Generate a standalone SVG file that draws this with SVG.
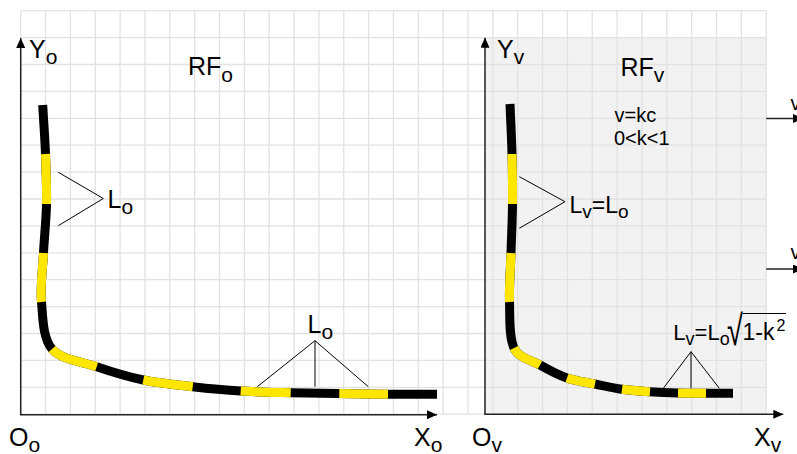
<svg xmlns="http://www.w3.org/2000/svg" width="797" height="454" viewBox="0 0 797 454">
<style>
.grid{stroke:#e2e2e2;stroke-width:1.3;fill:none}
.axis{stroke:#222;stroke-width:1.5;fill:none}
.blk{stroke:#000;stroke-width:9;fill:none;stroke-linecap:butt}
.yel{stroke:#ffe600;stroke-width:9;fill:none;stroke-linecap:butt}
.ann{stroke:#000;stroke-width:1;fill:none}
text{font-family:"Liberation Sans",Arial,sans-serif;fill:#000}
.lbl{font-size:25px}
.sub{font-size:21px}
.sm{font-size:20px}
</style>
<defs>
<marker id="ah" markerUnits="userSpaceOnUse" markerWidth="10" markerHeight="9" refX="10" refY="4.5" orient="auto" viewBox="0 0 10 9">
<path d="M0,0L10,4.5L0,9z" fill="#000"/>
</marker>
</defs>
<rect id="panel-v-bg" x="485" y="37.6" width="281.2" height="376.6" fill="#f2f2f2"/>
<g id="grid">
<path class="grid" d="M20.7 10.7V414.2M45.55 10.7V414.2M70.4 10.7V414.2M95.25 10.7V414.2M120.1 10.7V414.2M144.95 10.7V414.2M169.8 10.7V414.2M194.65 10.7V414.2M219.5 10.7V414.2M244.35 10.7V414.2M269.2 10.7V414.2M294.05 10.7V414.2M318.9 10.7V414.2M343.75 10.7V414.2M368.6 10.7V414.2M393.45 10.7V414.2M418.3 10.7V414.2M443.15 10.7V414.2M468 10.7V414.2M492.85 10.7V414.2M517.7 10.7V414.2M542.55 10.7V414.2M567.4 10.7V414.2M592.25 10.7V414.2M617.1 10.7V414.2M641.95 10.7V414.2M666.8 10.7V414.2M691.65 10.7V414.2M716.5 10.7V414.2M741.35 10.7V414.2M766.2 10.7V414.2"/>
<path class="grid" d="M20.7 10.7H766.2M20.7 37.6H766.2M20.7 64.5H766.2M20.7 91.4H766.2M20.7 118.3H766.2M20.7 145.2H766.2M20.7 172.1H766.2M20.7 199H766.2M20.7 225.9H766.2M20.7 252.8H766.2M20.7 279.7H766.2M20.7 306.6H766.2M20.7 333.5H766.2M20.7 360.4H766.2M20.7 387.3H766.2M20.7 414.2H766.2"/>
</g>
<g id="curve-o">
<path class="blk" d="M42.7,105 C43.63,121.33 44.87,137.5 45.5,154 C46.13,170.5 46.83,187.5 46.5,204 C46.17,220.5 44.33,236.67 43.5,253 C42.67,269.33 40.08,286 41.5,302 C42.92,318 42.8,338.22 52,349 C61.2,359.78 81.48,361.53 96.7,366.7 C111.92,371.87 127.3,376.67 143.3,380 C159.3,383.33 176.47,384.87 192.7,386.7 C208.93,388.53 224.37,390 240.7,391 C257.03,392 274.27,392.28 290.7,392.7 C307.13,393.12 323.08,393.23 339.3,393.5 C355.52,393.77 371.72,394.17 388,394.3 C404.28,394.43 420.67,394.3 437,394.3"/>
<path class="yel" d="M45.5,154 C46.13,170.5 46.83,187.5 46.5,204"/>
<path class="yel" d="M43.5,253 C42.67,269.33 40.08,286 41.5,302"/>
<path class="yel" d="M52,349 C61.2,359.78 81.48,361.53 96.7,366.7"/>
<path class="yel" d="M143.3,380 C159.3,383.33 176.47,384.87 192.7,386.7"/>
<path class="yel" d="M240.7,391 C257.03,392 274.27,392.28 290.7,392.7"/>
<path class="yel" d="M339.3,393.5 C355.52,393.77 371.72,394.17 388,394.3"/>
</g>
<g id="curve-v">
<path class="blk" d="M510,104 C510.67,120.67 511.58,137.33 512,154 C512.42,170.67 512.67,187.5 512.5,204 C512.33,220.5 511.5,236.67 511,253 C510.5,269.33 509,286.17 509.5,302 C510,317.83 508.92,337.5 514,348 C519.08,358.5 531.17,360 540,365 C548.83,370 557.83,374.83 567,378 C576.17,381.17 585.83,382.12 595,384 C604.17,385.88 612.83,388.02 622,389.3 C631.17,390.58 640.67,391.08 650,391.7 C659.33,392.32 668.67,392.73 678,393 C687.33,393.27 696.83,393.25 706,393.3 C715.17,393.35 724,393.3 733,393.3"/>
<path class="yel" d="M512,154 C512.42,170.67 512.67,187.5 512.5,204"/>
<path class="yel" d="M511,253 C510.5,269.33 509,286.17 509.5,302"/>
<path class="yel" d="M514,348 C519.08,358.5 531.17,360 540,365"/>
<path class="yel" d="M567,378 C576.17,381.17 585.83,382.12 595,384"/>
<path class="yel" d="M622,389.3 C631.17,390.58 640.67,391.08 650,391.7"/>
<path class="yel" d="M678,393 C687.33,393.27 696.83,393.25 706,393.3"/>
</g>
<g id="connectors">
<path class="axis" d="M20.7,414.8V38" marker-end="url(#ah)"/>
<path class="axis" d="M20,414.8H437" marker-end="url(#ah)"/>
<path class="axis" d="M485,414.3V37.7" marker-end="url(#ah)"/>
<path class="axis" d="M484.3,414.3H783.3" marker-end="url(#ah)"/>
<path class="axis" d="M766.2,118.5H803" marker-end="url(#ah)"/>
<path class="axis" d="M766.2,269H803" marker-end="url(#ah)"/>
<path class="ann" d="M58.3,172.3L103.3,198.5L58.3,225.7"/>
<path class="ann" d="M257.3,386.7L315,340.7L368.3,386.7M315,340.7V386.7"/>
<path class="ann" d="M519.3,176.7L565,201.7L519.3,228.3"/>
<path class="ann" d="M663.3,388.3L691,351.7L719.3,388.3M691,351.7V388.3"/>
</g>
<g id="panel-o">
<text class="lbl" x="29" y="58">Y<tspan class="sub" dy="6">o</tspan></text>
<text class="lbl" x="188" y="75">RF<tspan class="sub" dy="7">o</tspan></text>
<text class="lbl" x="9" y="445.5">O<tspan class="sub" dy="6">o</tspan></text>
<text class="lbl" x="414" y="446">X<tspan class="sub" dy="6">o</tspan></text>
<text id="label-lo-1" class="lbl" x="107.5" y="208">L<tspan class="sub" dy="6">o</tspan></text>
<text id="label-lo-2" class="lbl" x="307.5" y="332.5">L<tspan class="sub" dy="6">o</tspan></text>
</g>
<g id="panel-v">
<text class="lbl" x="497" y="58">Y<tspan class="sub" dy="6">v</tspan></text>
<text class="lbl" x="620.5" y="76">RF<tspan class="sub" dy="6">v</tspan></text>
<text class="sm" x="614.5" y="121.5">v=kc</text>
<text class="sm" x="614" y="145">0&lt;k&lt;1</text>
<text class="lbl" x="472" y="445.5">O<tspan class="sub" dy="6">v</tspan></text>
<text class="lbl" x="754" y="445.5">X<tspan class="sub" dy="6">v</tspan></text>
<text id="label-lv-1" x="569.5" y="213" font-size="23">L<tspan font-size="19" dy="5">v</tspan><tspan dy="-5">=L</tspan><tspan font-size="19" dy="5">o</tspan></text>
<g id="label-lv-2">
<text x="673.3" y="340" font-size="22">L<tspan font-size="18" dy="5">v</tspan><tspan dy="-5">=L</tspan><tspan font-size="18" dy="5">o</tspan></text>
<text transform="translate(727,345) scale(0.85,1.25)" font-size="34">√</text>
<text x="742.5" y="340" font-size="23">1-k<tspan font-size="16" dx="2" dy="-9">2</tspan></text>
<path class="ann" stroke-width="1.5" d="M743,313.5H786"/>
</g>
<text class="sm" x="790.5" y="110">v</text>
<text class="sm" x="790.5" y="259">v</text>
</g>
</svg>
